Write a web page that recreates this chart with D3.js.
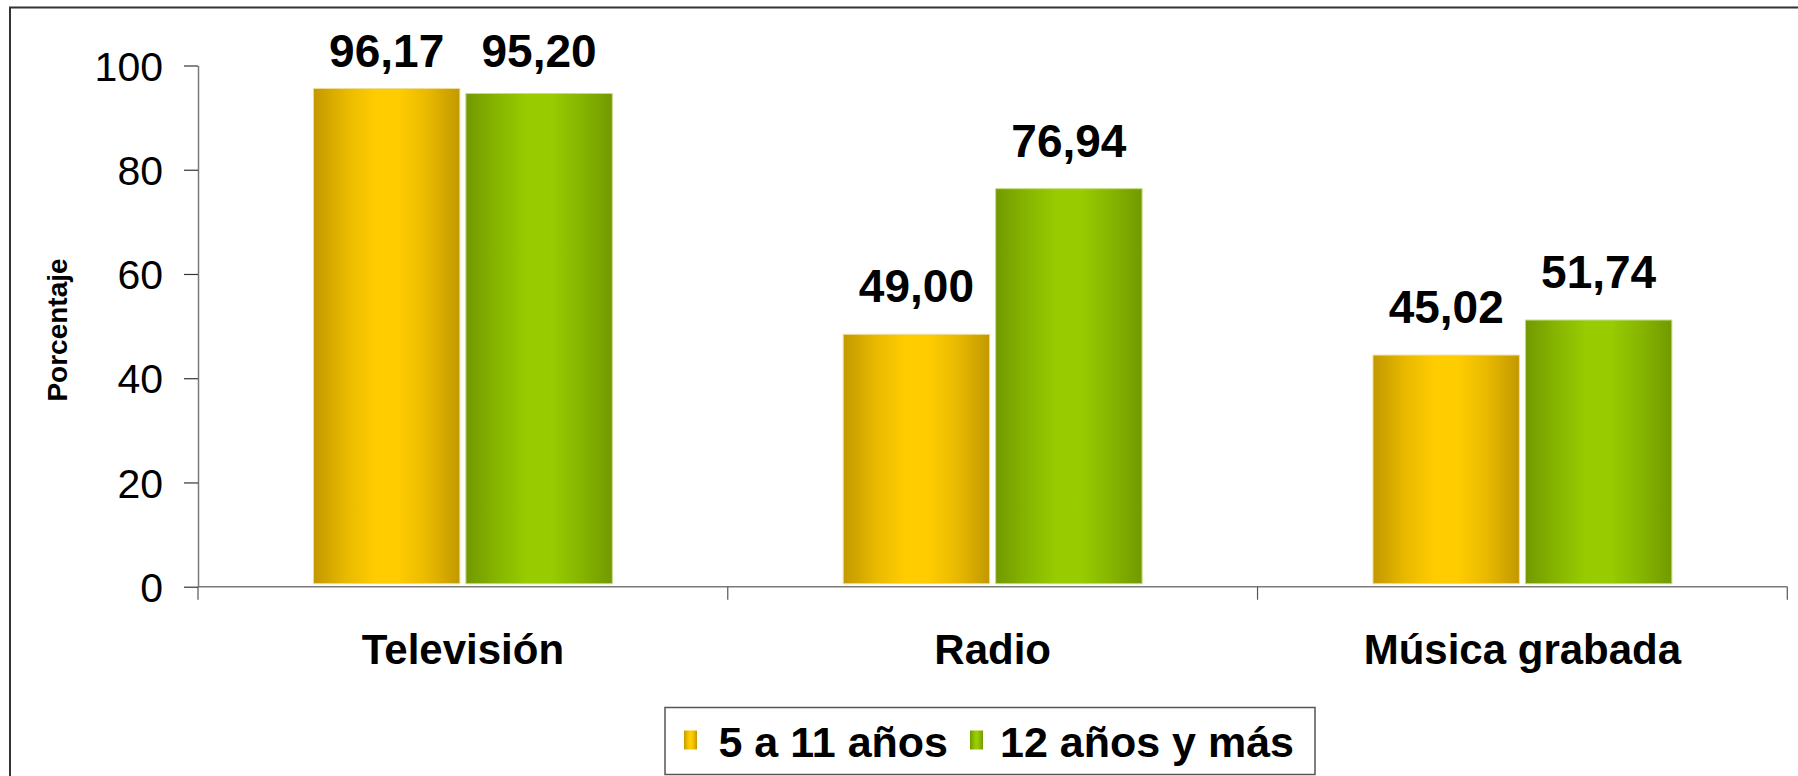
<!DOCTYPE html>
<html>
<head>
<meta charset="utf-8">
<script src="https://cdn.jsdelivr.net/npm/d3@7"></script>
<style>
  html, body { margin: 0; padding: 0; background: #fff; }
  svg { display: block; font-family: "Liberation Sans", Arial, sans-serif; }
</style>
</head>
<body>
<div id="chart"></div>
<script>
// data
var categories = ["Televisión", "Radio", "Música grabada"];
var seriesNames = ["5 a 11 años", "12 años y más"];
var kids = [96.17, 49.00, 45.02];
var adults = [95.20, 76.94, 51.74];
var yTicks = [0, 20, 40, 60, 80, 100];

var W = 1798, H = 776;

// plot area (plotTop, not "top" -- that one is window.top)
var plotLeft = 198, plotRight = 1787.3, plotTop = 65.5, plotBottom = 586.7;

var svg = d3.select("#chart")
    .append("svg")
    .attr("width", W)
    .attr("height", H);

var defs = svg.append("defs");

// horizontal "cylinder" gradients like the excel bars
function addGrad(id, dark, mid, bright) {
    var g = defs.append("linearGradient")
        .attr("id", id)
        .attr("x1", "0%").attr("x2", "100%")
        .attr("y1", "0%").attr("y2", "0%");
    g.append("stop").attr("offset", "0%").attr("stop-color", dark);
    g.append("stop").attr("offset", "22%").attr("stop-color", mid);
    g.append("stop").attr("offset", "42%").attr("stop-color", bright);
    g.append("stop").attr("offset", "58%").attr("stop-color", bright);
    g.append("stop").attr("offset", "78%").attr("stop-color", mid);
    g.append("stop").attr("offset", "100%").attr("stop-color", dark);
}
addGrad("gradYellow", "#C29800", "#E8B900", "#FFCC00");
addGrad("gradGreen", "#729900", "#87B600", "#99CC00");
var fills = ["url(#gradYellow)", "url(#gradGreen)"];
var edges = ["#EFDD9A", "#C4DC86"];

// outer frame (runs off the right / bottom of the picture)
svg.append("rect")
    .attr("x", 10).attr("y", 7.5)
    .attr("width", 1820).attr("height", 820)
    .attr("fill", "none")
    .attr("stroke", "#333")
    .attr("stroke-width", 2);

var rows = categories.map(function(c, i) {
    return {cat: c, values: [kids[i], adults[i]]};
});

var x0 = d3.scaleBand()
    .domain(categories)
    .range([plotLeft, plotRight])
    .paddingInner(0.4245)
    .paddingOuter(0.4245 / 2);

var x1 = d3.scaleBand()
    .domain([0, 1])
    .range([0, x0.bandwidth()]);

var y = d3.scaleLinear()
    .domain([0, 100])
    .range([plotBottom, plotTop]);

// bars
var inset = 3;
var groups = svg.append("g").selectAll("g")
    .data(rows)
    .enter().append("g")
    .attr("transform", function(d) { return "translate(" + x0(d.cat) + ",0)"; });

groups.selectAll("rect")
    .data(function(d) { return d.values.map(function(v, k) { return {k: k, v: v}; }); })
    .enter().append("rect")
    .attr("x", function(d) { return x1(d.k) + inset; })
    .attr("width", x1.bandwidth() - inset * 2)
    .attr("y", function(d) { return y(d.v) + inset; })
    .attr("height", function(d) { return y(0) - y(d.v) - inset * 2; })
    .attr("fill", function(d) { return fills[d.k]; })
    .attr("stroke", function(d) { return edges[d.k]; })
    .attr("stroke-width", 1);

// value labels (excel pushes them down when they would leave the plot)
groups.selectAll("text")
    .data(function(d) { return d.values.map(function(v, k) { return {k: k, v: v}; }); })
    .enter().append("text")
    .attr("x", function(d) { return x1(d.k) + x1.bandwidth() / 2; })
    .attr("y", function(d) { return Math.max(y(d.v) - 29, 67); })
    .attr("text-anchor", "middle")
    .style("font-size", "46px")
    .style("font-weight", "bold")
    .attr("fill", "#000")
    .text(function(d) { return d3.format(".2f")(d.v).replace(".", ","); });

// y axis
var yAxis = svg.append("g")
    .attr("transform", "translate(" + plotLeft + ",0)")
    .call(d3.axisLeft(y).tickValues(yTicks).tickSize(14).tickSizeOuter(0).tickPadding(21));
yAxis.select(".domain").attr("stroke", "#7a7a7a").attr("stroke-width", 1.5);
yAxis.selectAll(".tick line").attr("stroke", "#333").attr("stroke-width", 1.2);
yAxis.selectAll(".tick text")
    .attr("dy", "0.36em")
    .style("font-size", "41px")
    .style("font-family", "'Liberation Sans', Arial, sans-serif")
    .attr("fill", "#000");

// x axis: category labels centred, ticks on band boundaries
var xAxis = svg.append("g")
    .attr("transform", "translate(0," + plotBottom + ")")
    .call(d3.axisBottom(x0).tickSize(0).tickPadding(0));
xAxis.select(".domain").remove();
xAxis.selectAll(".tick text")
    .attr("y", 77)
    .attr("dy", 0)
    .style("font-size", "42px")
    .style("font-weight", "bold")
    .style("font-family", "'Liberation Sans', Arial, sans-serif")
    .attr("fill", "#000");

svg.append("line")
    .attr("x1", plotLeft).attr("x2", plotRight)
    .attr("y1", plotBottom).attr("y2", plotBottom)
    .attr("stroke", "#7a7a7a").attr("stroke-width", 1.5);

var half = (x0.step() - x0.bandwidth()) / 2;
var bounds = categories.map(function(c) { return x0(c) - half; }).concat([plotRight]);
svg.append("g").selectAll("line")
    .data(bounds)
    .enter().append("line")
    .attr("x1", function(d) { return d; }).attr("x2", function(d) { return d; })
    .attr("y1", plotBottom).attr("y2", plotBottom + 13)
    .attr("stroke", "#555").attr("stroke-width", 1.2);

// y axis title
svg.append("text")
    .attr("transform", "translate(67,330) rotate(-90)")
    .attr("text-anchor", "middle")
    .style("font-size", "28px")
    .style("font-weight", "bold")
    .attr("fill", "#000")
    .text("Porcentaje");

// legend
var legend = svg.append("g");
legend.append("rect")
    .attr("x", 665).attr("y", 707.5)
    .attr("width", 650).attr("height", 67)
    .attr("fill", "#fff")
    .attr("stroke", "#555")
    .attr("stroke-width", 1.5);

var legendItems = [
    {marker: 684, text: 718.5},
    {marker: 970, text: 1000}
];
legendItems.forEach(function(it, k) {
    legend.append("rect")
        .attr("x", it.marker).attr("y", 730.5)
        .attr("width", 13).attr("height", 19)
        .attr("fill", fills[k]);
    legend.append("text")
        .attr("x", it.text).attr("y", 757)
        .style("font-size", "43px")
        .style("font-weight", "bold")
        .attr("fill", "#000")
        .text(seriesNames[k]);
});
</script>
</body>
</html>
